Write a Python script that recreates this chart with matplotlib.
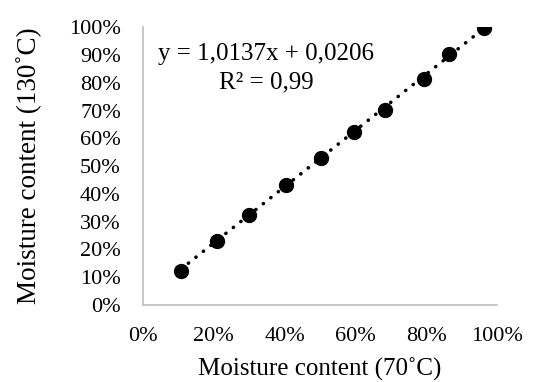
import matplotlib.pyplot as plt
from matplotlib.ticker import PercentFormatter, MultipleLocator
import numpy as np

plt.rcParams['font.family'] = ['Liberation Serif', 'DejaVu Serif']

# moisture content at 70 C vs 130 C (fractions)
mc_70 = [0.107, 0.209, 0.298, 0.404, 0.502, 0.595, 0.684, 0.792, 0.864, 0.963]
mc_130 = [0.123, 0.231, 0.323, 0.432, 0.530, 0.622, 0.701, 0.812, 0.903, 0.999]

slope = 1.0137
intercept = 0.0206
r2 = 0.99

fig = plt.figure(figsize=(5.5, 3.82), dpi=100)
ax = fig.add_axes([0.26, 0.2016, 0.644, 0.727])

xs = np.array([min(mc_70), max(mc_70)])
ax.plot(xs, slope * xs + intercept, color='black', linestyle=(0, (0.05, 2.6)),
        linewidth=2.6, dash_capstyle='round', zorder=2)
ax.plot(mc_70, mc_130, 'o', color='black', markersize=10, zorder=3)

ax.set_xlim(0, 1)
ax.set_ylim(0, 1)
ax.xaxis.set_major_locator(MultipleLocator(0.2))
ax.yaxis.set_major_locator(MultipleLocator(0.1))
ax.xaxis.set_major_formatter(PercentFormatter(1.0, decimals=0))
ax.yaxis.set_major_formatter(PercentFormatter(1.0, decimals=0))
ax.tick_params(length=0, labelsize=16, pad=16)
for side in ('top', 'right'):
    ax.spines[side].set_visible(False)
for side in ('left', 'bottom'):
    ax.spines[side].set_color('#bfbfbf')
    ax.spines[side].set_linewidth(1.2)

ax.set_xlabel('Moisture content (70˚C)', fontsize=18, labelpad=8)
ax.set_ylabel('Moisture content (130˚C)', fontsize=19.5, labelpad=19)

eq = f"y = {slope:.4f}x + {intercept:.4f}".replace('.', ',')
r2_txt = f"R² = {r2:.2f}".replace('.', ',')
ax.text(0.347, 0.853, eq + "\n" + r2_txt, ha='center', va='center',
        fontsize=18, linespacing=1.4, transform=ax.transData)

fig.savefig('out.png', dpi=100)
